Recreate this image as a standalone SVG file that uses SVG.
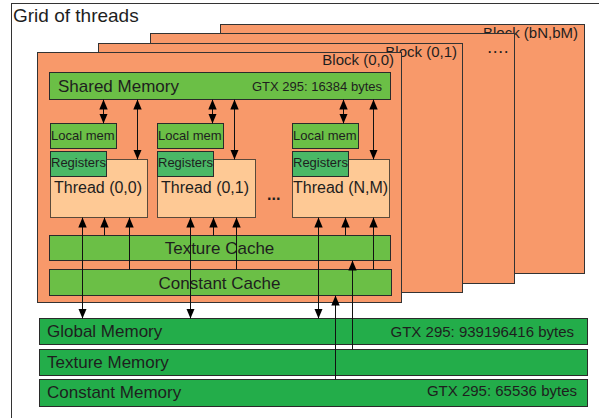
<svg xmlns="http://www.w3.org/2000/svg" width="599" height="418" viewBox="0 0 599 418">
<style>
text{font-family:"Liberation Sans",Arial,sans-serif;fill:#1e1e1e}
.blk{fill:#f8996a;stroke:#333;stroke-width:1}
.lg{fill:#6bbf46;stroke:#2a2a2a;stroke-width:1}
.rg{fill:#4ab866;stroke:#2a2a2a;stroke-width:1}
.th{fill:#fec995;stroke:#5a4a3a;stroke-width:1}
.mem{fill:#23ad4a;stroke:#2a2a2a;stroke-width:1}
.big{font-size:17px}
.sm{font-size:13px}
.bl{font-size:15px}
.c line{stroke:#111;stroke-width:1}
.d{marker-start:url(#ah);marker-end:url(#ah)}
.e{marker-end:url(#ah)}
</style>
<defs>
<marker id="ah" markerUnits="userSpaceOnUse" markerWidth="10" markerHeight="10" viewBox="0 0 10 10" refX="10" refY="5" orient="auto-start-reverse">
<path d="M0,0.8 L10,5 L0,9.2 Z" fill="#000"/>
</marker>
</defs>
<rect width="599" height="418" fill="#fff"/>
<g id="grid">
<rect x="11.5" y="3.5" width="600" height="430" fill="none" stroke="#333" stroke-width="1"/>
<text x="13" y="22" style="font-size:19px">Grid of threads</text>
</g>
<g id="block-bN-bM">
<rect class="blk" x="220.5" y="24.5" width="364" height="249"/>
<text class="bl" x="578" y="38" text-anchor="end">Block (bN,bM)</text>
</g>
<g id="block-more">
<rect class="blk" x="150.5" y="33.5" width="364" height="250"/>
<text x="488" y="53" style="font-size:12px;font-weight:bold;letter-spacing:2.2px">....</text>
</g>
<g id="block-0-1">
<rect class="blk" x="98.5" y="43.5" width="364" height="249"/>
<text class="bl" x="457" y="57" text-anchor="end">Block (0,1)</text>
</g>
<g id="block-0-0">
<rect class="blk" x="37.5" y="52.5" width="364" height="250"/>
<text class="bl" x="394" y="65" text-anchor="end">Block (0,0)</text>
</g>
<g id="shared-memory">
<rect class="lg" x="49.5" y="72.5" width="341" height="27"/>
<text class="big" x="58" y="92">Shared Memory</text>
<text class="sm" x="382" y="91" text-anchor="end">GTX 295: 16384 bytes</text>
</g>
<g id="local-mem-0">
<rect class="lg" x="50.5" y="123.5" width="66" height="25"/>
<text class="sm" x="51" y="140">Local mem</text>
</g>
<g id="local-mem-1">
<rect class="lg" x="157.5" y="123.5" width="66" height="25"/>
<text class="sm" x="158" y="140">Local mem</text>
</g>
<g id="local-mem-2">
<rect class="lg" x="292.5" y="123.5" width="66" height="25"/>
<text class="sm" x="293" y="140">Local mem</text>
</g>
<g id="thread-0-0">
<rect class="th" x="50.5" y="159.5" width="97" height="58"/>
<rect class="rg" x="50.5" y="151.5" width="56" height="25"/>
<text class="sm" x="51" y="167">Registers</text>
<text x="54" y="193" style="font-size:16px">Thread (0,0)</text>
</g>
<g id="thread-0-1">
<rect class="th" x="157.5" y="159.5" width="98" height="58"/>
<rect class="rg" x="157.5" y="151.5" width="56" height="25"/>
<text class="sm" x="158" y="167">Registers</text>
<text x="161" y="193" style="font-size:16px">Thread (0,1)</text>
</g>
<g id="ellipsis">
<text x="267" y="200" style="font-size:16px;font-weight:bold">...</text>
</g>
<g id="thread-N-M">
<rect class="th" x="292.5" y="159.5" width="97" height="58"/>
<rect class="rg" x="292.5" y="151.5" width="56" height="25"/>
<text class="sm" x="293" y="167">Registers</text>
<text x="293" y="193" style="font-size:16px">Thread (N,M)</text>
</g>
<g id="texture-cache">
<rect class="lg" x="49.5" y="235.5" width="341" height="25"/>
<text class="big" x="219.5" y="254" text-anchor="middle">Texture Cache</text>
</g>
<g id="constant-cache">
<rect class="lg" x="49.5" y="269.5" width="342" height="26"/>
<text class="big" x="219.5" y="289" text-anchor="middle">Constant Cache</text>
</g>
<g id="global-memory">
<rect class="mem" x="39.5" y="318.5" width="548" height="26"/>
<text class="big" x="47" y="337">Global Memory</text>
<text class="bl" x="574" y="337" text-anchor="end">GTX 295: 939196416 bytes</text>
</g>
<g id="texture-memory">
<rect class="mem" x="39.5" y="349.5" width="548" height="26"/>
<text class="big" x="47" y="368">Texture Memory</text>
</g>
<g id="constant-memory">
<rect class="mem" x="39.5" y="379.5" width="548" height="27"/>
<text class="big" x="47" y="398">Constant Memory</text>
<text class="bl" x="577" y="396" text-anchor="end">GTX 295: 65536 bytes</text>
</g>
<g id="connectors" class="c">
<line class="d" x1="103.5" y1="99.5" x2="103.5" y2="123.5"/>
<line class="d" x1="212.5" y1="99.5" x2="212.5" y2="123.5"/>
<line class="d" x1="343.5" y1="99.5" x2="343.5" y2="123.5"/>
<line class="d" x1="137.5" y1="99.5" x2="137.5" y2="159.5"/>
<line class="d" x1="234.5" y1="99.5" x2="234.5" y2="159.5"/>
<line class="d" x1="373.5" y1="99.5" x2="373.5" y2="159.5"/>
<line class="d" x1="82.5" y1="217.5" x2="82.5" y2="318.5"/>
<line class="d" x1="190.5" y1="217.5" x2="190.5" y2="318.5"/>
<line class="d" x1="318.5" y1="217.5" x2="318.5" y2="318.5"/>
<line class="e" x1="104.5" y1="235.5" x2="104.5" y2="217.5"/>
<line class="e" x1="213.5" y1="235.5" x2="213.5" y2="217.5"/>
<line class="e" x1="345.5" y1="235.5" x2="345.5" y2="217.5"/>
<line class="e" x1="129.5" y1="269.5" x2="129.5" y2="217.5"/>
<line class="e" x1="236.5" y1="269.5" x2="236.5" y2="217.5"/>
<line class="e" x1="373.5" y1="269.5" x2="373.5" y2="217.5"/>
<line class="e" x1="335.5" y1="379.5" x2="335.5" y2="295.5"/>
<line class="e" x1="352.5" y1="349.5" x2="352.5" y2="260.5"/>
</g>
</svg>
